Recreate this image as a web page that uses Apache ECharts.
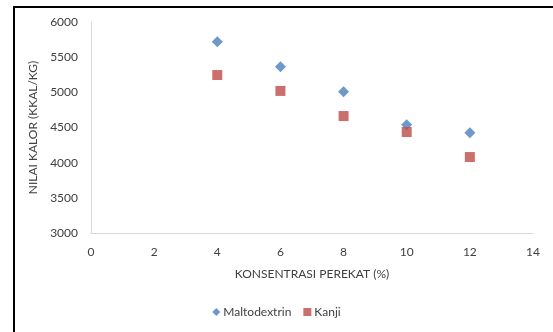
<!DOCTYPE html>
<html><head><meta charset="utf-8">
<script src="https://cdn.jsdelivr.net/npm/echarts@6/dist/echarts.min.js"></script>
<style>html,body{margin:0;padding:0;background:#fff}#c{width:553px;height:332px;position:relative}
#frame{position:absolute;left:13px;top:6px;width:600px;height:400px;border-left:2px solid #000;border-top:2px solid #000;box-sizing:border-box;pointer-events:none}</style>
</head><body><div id="c"></div><div id="frame"></div>
<script>
var xValues = [4, 6, 8, 10, 12];
var maltodextrin = [5720, 5365, 5010, 4540, 4426];
var kanji = [5246, 5020, 4663, 4436, 4080];
var seriesNames = ['Maltodextrin', 'Kanji'];
var xTitle = 'KONSENTRASI PEREKAT (%)';
var yTitle = 'NILAI KALOR (KKAL/KG)';

function pts(vals){ return xValues.map(function(x,i){ return [x, vals[i]]; }); }
var font = 'Lato, "Open Sans", sans-serif';
var chart = echarts.init(document.getElementById('c'));
chart.setOption({
  animation:false,
  textStyle:{fontFamily:font},
  grid:{left:91, right:20, top:22, bottom:99, containLabel:false},
  xAxis:{type:'value', min:0, max:14, interval:2,
    name:xTitle, nameLocation:'middle', nameGap:35,
    nameTextStyle:{color:'#404040', fontSize:12, fontFamily:font},
    axisLine:{show:true, lineStyle:{color:'#d9d9d9'}}, axisTick:{show:false},
    splitLine:{show:false},
    axisLabel:{color:'#404040', fontSize:12, margin:13, fontFamily:font}},
  yAxis:{type:'value', min:3000, max:6000, interval:500,
    name:yTitle, nameLocation:'middle', nameGap:42, nameRotate:90,
    nameTextStyle:{color:'#404040', fontSize:12, fontFamily:font},
    axisLine:{show:true, lineStyle:{color:'#d9d9d9'}}, axisTick:{show:false},
    splitLine:{show:false},
    axisLabel:{color:'#404040', fontSize:12, margin:13, fontFamily:font,
      formatter:function(v){ return String(v); }}},
  legend:{bottom:9, left:'center', itemGap:12, itemWidth:8, itemHeight:8,
    textStyle:{color:'#404040', fontSize:12, fontFamily:font, padding:[0,0,0,-2]}, data:seriesNames},
  series:[
    {name:seriesNames[0], type:'scatter', symbol:'diamond', symbolSize:11,
     itemStyle:{color:'#4a7ebb'}, data:pts(maltodextrin)},
    {name:seriesNames[1], type:'scatter', symbol:'rect', symbolSize:10,
     itemStyle:{color:'#be4b48'}, data:pts(kanji)}
  ]
});
</script></body></html>
